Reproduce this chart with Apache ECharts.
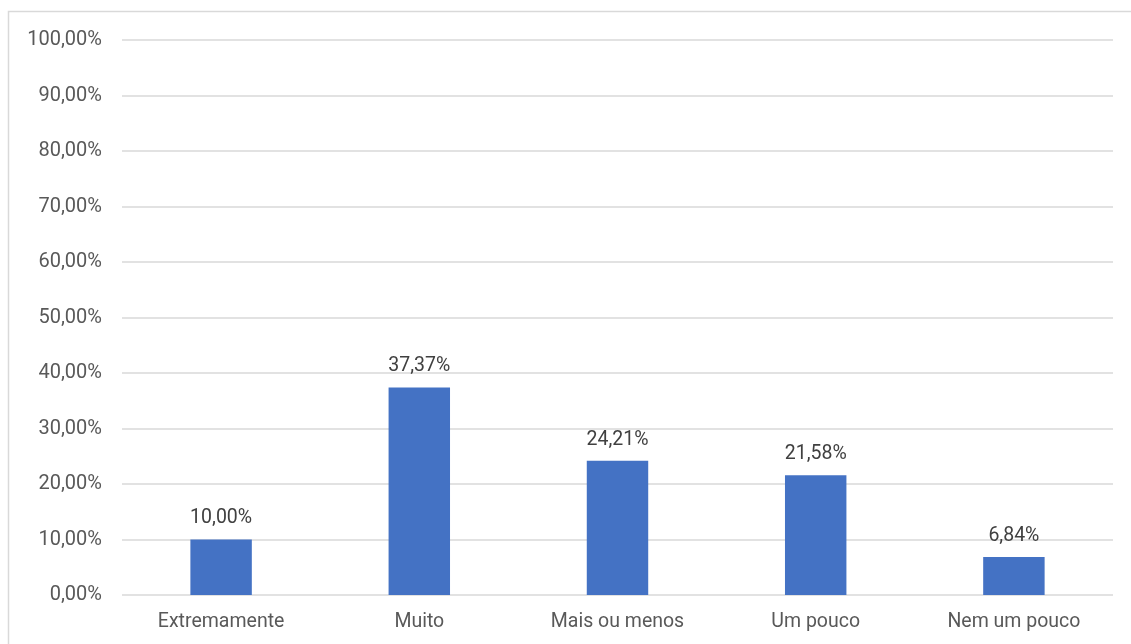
<!DOCTYPE html>
<html>
<head>
<meta charset="utf-8">
<script src="https://cdn.jsdelivr.net/npm/echarts@6/dist/echarts.min.js"></script>
<style>
  html, body { margin: 0; padding: 0; background: #ffffff; }
  #chart { width: 1131px; height: 644px; }
</style>
</head>
<body>
<div id="chart"></div>
<script>
// Response categories and their share of respondents (%)
const categories = ['Extremamente', 'Muito', 'Mais ou menos', 'Um pouco', 'Nem um pouco'];
const shares = [10.00, 37.37, 24.21, 21.58, 6.84];
const axisMax = 100;
const axisStep = 10;

const fmtPct = v => v.toFixed(2).replace('.', ',') + '%';
const FONT = 'Roboto, "Noto Sans", sans-serif';

const chart = echarts.init(document.getElementById('chart'), null, { renderer: 'canvas' });
chart.setOption({
  backgroundColor: '#ffffff',
  animation: false,
  graphic: [{
    type: 'rect',
    shape: { x: 8.5, y: 11.5, width: 1140, height: 660 },
    style: { fill: 'none', stroke: '#d9d9d9', lineWidth: 1.5 },
    silent: true
  }],
  grid: { left: 122, right: 18, top: 40, bottom: 49, containLabel: false },
  xAxis: {
    type: 'category',
    data: categories,
    axisLine: { show: false },
    axisTick: { show: false },
    axisLabel: { color: '#595959', fontSize: 19.5, fontFamily: FONT, margin: 17 }
  },
  yAxis: {
    type: 'value',
    min: 0,
    max: axisMax,
    interval: axisStep,
    axisLine: { show: false },
    axisTick: { show: false },
    splitLine: { lineStyle: { color: '#d9d9d9', width: 1.5 } },
    axisLabel: { color: '#595959', fontSize: 20, fontFamily: FONT, margin: 20, formatter: v => fmtPct(v) }
  },
  series: [{
    type: 'bar',
    data: shares,
    barWidth: '31%',
    itemStyle: { color: '#4472c4' },
    label: {
      show: true,
      position: 'top',
      distance: 11,
      color: '#404040',
      fontSize: 19.5,
      fontFamily: FONT,
      formatter: p => fmtPct(p.value)
    }
  }]
});
</script>
</body>
</html>
